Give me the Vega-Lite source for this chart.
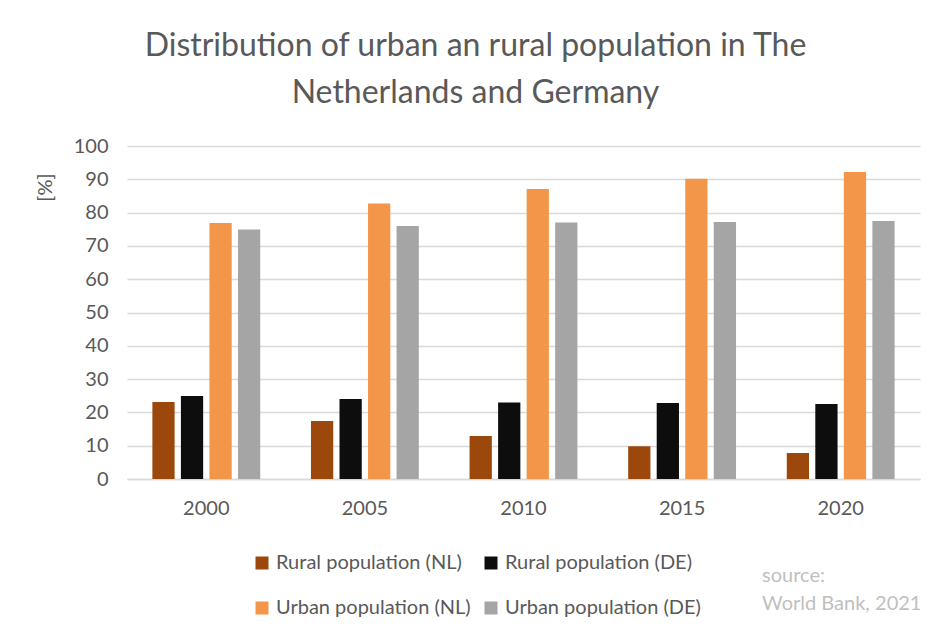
{
  "$schema": "https://vega.github.io/schema/vega-lite/v6.json",
  "width": 793,
  "height": 333,
  "autosize": {"type": "none"},
  "padding": {"left": 127, "top": 146, "right": 29, "bottom": 162},
  "background": "white",
  "title": {
    "text": ["Distribution of urban an rural population in The", "Netherlands and Germany"],
    "fontSize": 32,
    "font": "Lato",
    "fontWeight": "normal",
    "color": "#595959",
    "lineHeight": 47,
    "anchor": "middle",
    "dx": -48,
    "offset": 26
  },
  "config": {
    "font": "Lato",
    "view": {"stroke": null}
  },
  "resolve": {"axis": {"x": "independent", "y": "independent"}},
  "datasets": {
    "pop": [
      {"year": "2000", "series": "Rural population (NL)", "value": 23.1},
      {"year": "2000", "series": "Rural population (DE)", "value": 24.9},
      {"year": "2000", "series": "Urban population (NL)", "value": 76.9},
      {"year": "2000", "series": "Urban population (DE)", "value": 74.9},
      {"year": "2005", "series": "Rural population (NL)", "value": 17.4},
      {"year": "2005", "series": "Rural population (DE)", "value": 24.0},
      {"year": "2005", "series": "Urban population (NL)", "value": 82.7},
      {"year": "2005", "series": "Urban population (DE)", "value": 76.0},
      {"year": "2010", "series": "Rural population (NL)", "value": 12.9},
      {"year": "2010", "series": "Rural population (DE)", "value": 23.0},
      {"year": "2010", "series": "Urban population (NL)", "value": 87.1},
      {"year": "2010", "series": "Urban population (DE)", "value": 77.0},
      {"year": "2015", "series": "Rural population (NL)", "value": 9.8},
      {"year": "2015", "series": "Rural population (DE)", "value": 22.8},
      {"year": "2015", "series": "Urban population (NL)", "value": 90.2},
      {"year": "2015", "series": "Urban population (DE)", "value": 77.2},
      {"year": "2020", "series": "Rural population (NL)", "value": 7.8},
      {"year": "2020", "series": "Rural population (DE)", "value": 22.5},
      {"year": "2020", "series": "Urban population (NL)", "value": 92.2},
      {"year": "2020", "series": "Urban population (DE)", "value": 77.5}
    ],
    "source": [
      {"year": "2015", "value": -29, "label": "source:"},
      {"year": "2015", "value": -37.5, "label": "World Bank, 2021"}
    ]
  },
  "layer": [
    {
      "data": {"name": "pop"},
      "mark": {"type": "bar"},
      "encoding": {
        "x": {
          "field": "year",
          "type": "nominal",
          "scale": {"paddingInner": 0.32, "paddingOuter": 0.16},
          "axis": {
            "title": null,
            "labelAngle": 0,
            "labelFontSize": 20,
            "labelColor": "#595959",
            "labelPadding": 19,
            "ticks": false,
            "domainColor": "#D9D9D9",
            "domainWidth": 1.5
          }
        },
        "xOffset": {
          "field": "series",
          "type": "nominal",
          "sort": ["Rural population (NL)", "Rural population (DE)", "Urban population (NL)", "Urban population (DE)"],
          "scale": {"paddingInner": 0.22, "paddingOuter": 0}
        },
        "y": {
          "field": "value",
          "type": "quantitative",
          "scale": {"domain": [0, 100]},
          "axis": {
            "title": "[%]",
            "titleFontSize": 20,
            "titleFontWeight": "normal",
            "titleColor": "#595959",
            "titleX": -82,
            "titleY": 41,
            "titleAngle": -90,
            "titleAlign": "center",
            "titleBaseline": "middle",
            "values": [0, 10, 20, 30, 40, 50, 60, 70, 80, 90, 100],
            "labelOverlap": false,
            "labelFontSize": 20,
            "labelColor": "#595959",
            "labelPadding": 19,
            "ticks": false,
            "domain": false,
            "gridColor": "#D9D9D9",
            "gridWidth": 1.5
          }
        },
        "color": {
          "field": "series",
          "type": "nominal",
          "sort": ["Rural population (NL)", "Rural population (DE)", "Urban population (NL)", "Urban population (DE)"],
          "scale": {
            "domain": ["Rural population (NL)", "Rural population (DE)", "Urban population (NL)", "Urban population (DE)"],
            "range": ["#9C480C", "#0D0D0D", "#F4964A", "#A5A5A5"]
          },
          "legend": {
            "title": null,
            "orient": "none",
            "direction": "horizontal",
            "legendX": 125,
            "legendY": 407,
            "columns": 2,
            "symbolType": "square",
            "symbolSize": 169,
            "symbolStrokeWidth": 0,
            "labelFontSize": 20,
            "labelLimit": 400,
            "labelColor": "#595959",
            "labelOffset": 4,
            "columnPadding": 10,
            "rowPadding": 25
          }
        }
      }
    },
    {
      "data": {"name": "source"},
      "mark": {"type": "text", "align": "left", "baseline": "middle", "dx": 80, "fontSize": 20, "color": "#BFBFBF", "font": "Lato"},
      "encoding": {
        "x": {"field": "year", "type": "nominal", "axis": null},
        "y": {"field": "value", "type": "quantitative", "axis": null},
        "text": {"field": "label"}
      }
    }
  ]
}
